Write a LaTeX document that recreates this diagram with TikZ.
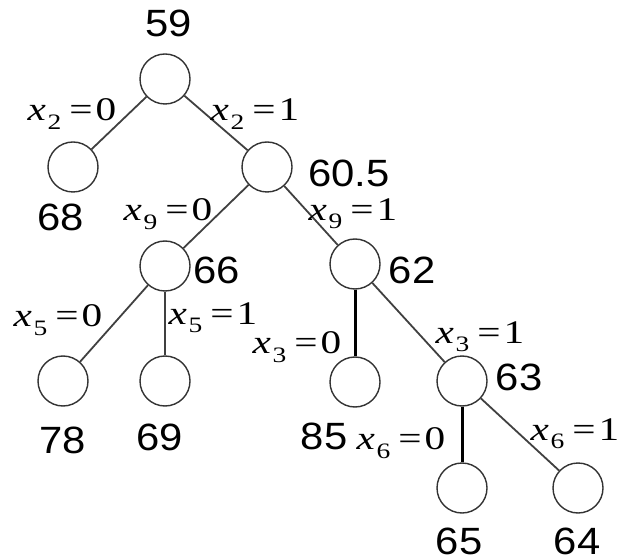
\documentclass[tikz,border=0pt]{standalone}
\usepackage{fontspec}
\setmainfont[FakeStretch=1.1]{Liberation Sans}
\newfontfamily\tms[FakeStretch=1.25]{Liberation Serif}
\newcommand{\xeq}[2]{{\tms\textit{x}\kern0.8pt\raisebox{-0.55ex}{\fontsize{11}{11}\selectfont #1}\kern4pt=\kern1.5pt#2}}
\begin{document}
\begin{tikzpicture}[x=0.5pt,y=-0.5pt,
   vx/.style={circle,draw=black!80,line width=0.7pt,minimum size=25pt,inner sep=0pt},
   val/.style={font=\fontsize{19}{19}\selectfont,inner sep=0pt},
   cut/.style={font=\fontsize{16.5}{16.5}\selectfont,inner sep=0pt},
   edge/.style={draw=black!75,line width=0.9pt},
   bold/.style={draw=black,line width=1.5pt}]
  \useasboundingbox (0,0) rectangle (619,560);
  % vertices
  \node[vx] (n59)  at (165,79)  {};
  \node[vx] (n68)  at (73,167)  {};
  \node[vx] (n605) at (267,167) {};
  \node[vx] (n66)  at (165,266) {};
  \node[vx] (n62)  at (355,264) {};
  \node[vx] (n78)  at (63,381)  {};
  \node[vx] (n69)  at (165,381) {};
  \node[vx] (n85)  at (355,382) {};
  \node[vx] (n63)  at (462,381) {};
  \node[vx] (n65)  at (462,488) {};
  \node[vx] (n64)  at (578,488) {};
  % branches
  \draw[edge] (n59) -- (n68);
  \draw[edge] (n59) -- (n605);
  \draw[edge] (n605) -- (n66);
  \draw[edge] (n605) -- (n62);
  \draw[edge] (n66) -- (n78);
  \draw[edge,line width=0.6pt] (n66) -- (n69);
  \draw[bold] (n62) -- (n85);
  \draw[edge] (n62) -- (n63);
  \draw[bold] (n63) -- (n65);
  \draw[edge] (n63) -- (n64);
  % bounds
  \node[val] (v59)  at (169,23)  {59};
  \node[val] (v68)  at (61,217)  {68};
  \node[val] (v605) at (349,173) {60.5};
  \node[val] (v66)  at (217,270) {66};
  \node[val] (v62)  at (412,270) {62};
  \node[val] (v78)  at (63,440)  {78};
  \node[val] (v69)  at (160,437) {69};
  \node[val] (v85)  at (324,436) {85};
  \node[val] (v63)  at (519,377) {63};
  \node[val] (v65)  at (459,541) {65};
  \node[val] (v64)  at (577,541) {64};
  % branching labels
  \node[cut] (c20) at (72,114)  {\xeq{2}{0}};
  \node[cut] (c21) at (255,114) {\xeq{2}{1}};
  \node[cut] (c90) at (168,214) {\xeq{9}{0}};
  \node[cut] (c91) at (353,214) {\xeq{9}{1}};
  \node[cut] (c50) at (58,320)  {\xeq{5}{0}};
  \node[cut] (c51) at (213,318) {\xeq{5}{1}};
  \node[cut] (c30) at (297,347) {\xeq{3}{0}};
  \node[cut] (c31) at (480,337) {\xeq{3}{1}};
  \node[cut] (c60) at (401,443) {\xeq{6}{0}};
  \node[cut] (c61) at (575,434) {\xeq{6}{1}};
\end{tikzpicture}
\end{document}
